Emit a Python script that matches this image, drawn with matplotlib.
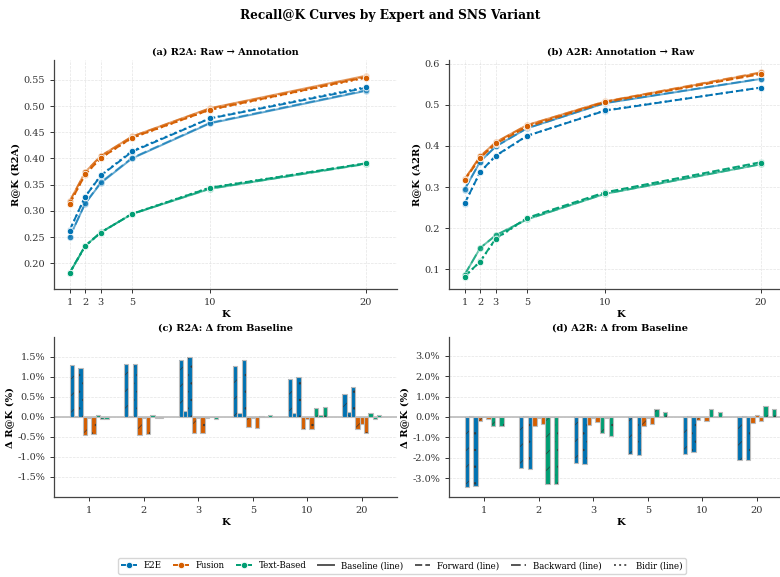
import numpy as np
import matplotlib
matplotlib.use("Agg")
import matplotlib.pyplot as plt
from matplotlib.lines import Line2D
from matplotlib.ticker import FuncFormatter

plt.rcParams['font.family'] = ['DejaVu Serif']
plt.rcParams['hatch.linewidth'] = 0.45

K = [1, 2, 3, 5, 10, 20]
experts = ["E2E", "Fusion", "Text-Based"]
variants = ["Baseline", "Forward", "Backward", "Bidir"]

# R2A: Raw -> Annotation
r2a_e2e_baseline = [0.2500, 0.3140, 0.3530, 0.4000, 0.4670, 0.5290]
r2a_e2e_forward  = [0.2631, 0.3272, 0.3672, 0.4128, 0.4764, 0.5348]
r2a_e2e_backward = [0.2502, 0.3142, 0.3545, 0.4010, 0.4680, 0.5302]
r2a_e2e_bidir    = [0.2623, 0.3273, 0.3680, 0.4143, 0.4769, 0.5364]

r2a_fus_baseline = [0.3180, 0.3740, 0.4050, 0.4420, 0.4960, 0.5580]
r2a_fus_forward  = [0.3135, 0.3694, 0.4009, 0.4396, 0.4930, 0.5551]
r2a_fus_backward = [0.3178, 0.3738, 0.4047, 0.4417, 0.4954, 0.5563]
r2a_fus_bidir    = [0.3138, 0.3698, 0.4009, 0.4392, 0.4929, 0.5540]

r2a_txt_baseline = [0.1815, 0.2330, 0.2590, 0.2940, 0.3420, 0.3900]
r2a_txt_forward  = [0.1819, 0.2334, 0.2587, 0.2942, 0.3442, 0.3909]
r2a_txt_backward = [0.1809, 0.2327, 0.2589, 0.2940, 0.3425, 0.3894]
r2a_txt_bidir    = [0.1809, 0.2328, 0.2586, 0.2945, 0.3446, 0.3905]

# A2R: Annotation -> Raw
a2r_e2e_baseline = [0.2940, 0.3620, 0.3990, 0.4430, 0.5040, 0.5630]
a2r_e2e_forward  = [0.2598, 0.3369, 0.3766, 0.4247, 0.4857, 0.5421]
a2r_e2e_backward = [0.2946, 0.3623, 0.3988, 0.4430, 0.5046, 0.5636]
a2r_e2e_bidir    = [0.2604, 0.3364, 0.3758, 0.4244, 0.4868, 0.5418]

a2r_fus_baseline = [0.3190, 0.3750, 0.4095, 0.4510, 0.5080, 0.5780]
a2r_fus_forward  = [0.3171, 0.3708, 0.4056, 0.4466, 0.5067, 0.5749]
a2r_fus_backward = [0.3188, 0.3745, 0.4089, 0.4504, 0.5082, 0.5791]
a2r_fus_bidir    = [0.3179, 0.3718, 0.4071, 0.4476, 0.5062, 0.5758]

a2r_txt_baseline = [0.0868, 0.1520, 0.1830, 0.2215, 0.2835, 0.3555]
a2r_txt_forward  = [0.0823, 0.1194, 0.1752, 0.2252, 0.2874, 0.3607]
a2r_txt_backward = [0.0869, 0.1522, 0.1827, 0.2216, 0.2837, 0.3556]
a2r_txt_bidir    = [0.0823, 0.1191, 0.1739, 0.2238, 0.2858, 0.3594]

data = {
    "R2A": {
        "E2E": [r2a_e2e_baseline, r2a_e2e_forward, r2a_e2e_backward, r2a_e2e_bidir],
        "Fusion": [r2a_fus_baseline, r2a_fus_forward, r2a_fus_backward, r2a_fus_bidir],
        "Text-Based": [r2a_txt_baseline, r2a_txt_forward, r2a_txt_backward, r2a_txt_bidir],
    },
    "A2R": {
        "E2E": [a2r_e2e_baseline, a2r_e2e_forward, a2r_e2e_backward, a2r_e2e_bidir],
        "Fusion": [a2r_fus_baseline, a2r_fus_forward, a2r_fus_backward, a2r_fus_bidir],
        "Text-Based": [a2r_txt_baseline, a2r_txt_forward, a2r_txt_backward, a2r_txt_bidir],
    },
}

colors = {"E2E": "#0072B2", "Fusion": "#D55E00", "Text-Based": "#009E73"}
lstyles = {"Baseline": "-", "Forward": "--", "Backward": (0, (5, 2)), "Bidir": ":"}
alphas = {"Baseline": 0.6, "Forward": 0.95, "Backward": 0.6, "Bidir": 0.95}
hatches = {"Forward": "//", "Backward": "\\\\", "Bidir": ".."}

fig = plt.figure(figsize=(7.8, 5.77), dpi=100)
W = 343 / 780
ax_a = fig.add_axes([54 / 780, 1 - 289 / 577, W, (289 - 60) / 577])
ax_b = fig.add_axes([449 / 780, 1 - 289 / 577, W, (289 - 60) / 577])
ax_c = fig.add_axes([54 / 780, 1 - 497 / 577, W, (497 - 337) / 577])
ax_d = fig.add_axes([449 / 780, 1 - 497 / 577, W, (497 - 337) / 577])

fig.suptitle("Recall@K Curves by Expert and SNS Variant", fontsize=8.7,
             fontweight="bold", y=0.985)

def style_ax(ax):
    for s in ["top", "right"]:
        ax.spines[s].set_visible(False)
    for s in ["left", "bottom"]:
        ax.spines[s].set_color("#444444")
        ax.spines[s].set_linewidth(0.9)
    ax.tick_params(labelsize=7, colors="#333333", length=3, width=0.7)

titles = {"R2A": "(a) R2A: Raw \u2192 Annotation", "A2R": "(b) A2R: Annotation \u2192 Raw"}
for ax, d in [(ax_a, "R2A"), (ax_b, "A2R")]:
    style_ax(ax)
    allv = []
    for e in experts:
        for vi, v in enumerate(variants):
            vals = data[d][e][vi]
            allv += vals
            ax.plot(K, vals, linestyle=lstyles[v], color=colors[e], alpha=alphas[v],
                    linewidth=1.4, marker="o", markersize=4.6,
                    markeredgecolor="white", markeredgewidth=0.6, zorder=3)
    ax.set_xlim(0, 22)
    ax.set_ylim(min(allv) - 0.03, max(allv) + 0.03)
    ax.set_xticks(K)
    ax.grid(True, linestyle="--", linewidth=0.5, color="#dddddd", alpha=0.8)
    ax.set_axisbelow(True)
    ax.set_title(titles[d], fontsize=7.0, fontweight="bold", pad=4)
    ax.set_xlabel("K", fontsize=7.2, fontweight="bold", labelpad=2)
    ax.set_ylabel(f"R@K ({d})", fontsize=7.2, fontweight="bold", labelpad=2)

titles_b = {"R2A": "(c) R2A: \u0394 from Baseline", "A2R": "(d) A2R: \u0394 from Baseline"}
bw = 0.08
x = np.arange(len(K))
for ax, d in [(ax_c, "R2A"), (ax_d, "A2R")]:
    style_ax(ax)
    j = 0
    maxabs = 0
    for e in experts:
        base = np.array(data[d][e][0])
        for vi, v in enumerate(variants[1:], start=1):
            delta = (np.array(data[d][e][vi]) - base) * 100
            maxabs = max(maxabs, np.abs(delta).max())
            pos = x + (j - 4) * bw
            ax.bar(pos, delta, width=bw, color=colors[e], edgecolor="#333333",
                   linewidth=0, hatch=hatches[v], zorder=3)
            ax.bar(pos, delta, width=bw, fill=False, edgecolor="#bbbbbb",
                   linewidth=0.8, zorder=4)
            j += 1
    ax.axhline(0, color="#bbbbbb", linewidth=1.2, zorder=2)
    lim = maxabs + 0.5
    ax.set_ylim(-lim, lim)
    if d == "R2A":
        ax.set_yticks(np.arange(-1.5, 1.51, 0.5))
    else:
        ax.set_yticks(np.arange(-3, 3.01, 1.0))
    ax.yaxis.set_major_formatter(FuncFormatter(lambda v, p: f"{v:.1f}%"))
    ax.set_xticks(x)
    ax.set_xticklabels([str(k) for k in K])
    ax.grid(True, axis="y", linestyle="--", linewidth=0.5, color="#dddddd", alpha=0.8)
    ax.set_axisbelow(True)
    ax.set_title(titles_b[d], fontsize=7.0, fontweight="bold", pad=5)
    ax.set_xlabel("K", fontsize=7.2, fontweight="bold", labelpad=2)
    ax.set_ylabel("\u0394 R@K (%)", fontsize=7.2, fontweight="bold", labelpad=2)

handles = []
for e in experts:
    handles.append(Line2D([0], [0], color=colors[e], linestyle="--", linewidth=1.4,
                          marker="o", markersize=4.6, markeredgecolor="white",
                          markeredgewidth=0.6, label=e))
for v in variants:
    handles.append(Line2D([0], [0], color="#555555", linestyle=lstyles[v],
                          linewidth=1.4, label=f"{v} (line)"))
fig.legend(handles=handles, loc="center", bbox_to_anchor=(402 / 780, 1 - 566 / 577),
           ncol=7, fontsize=6.2, frameon=True, edgecolor="#cccccc",
           handlelength=1.8, columnspacing=1.35)

fig.savefig("out.png", dpi=100)
